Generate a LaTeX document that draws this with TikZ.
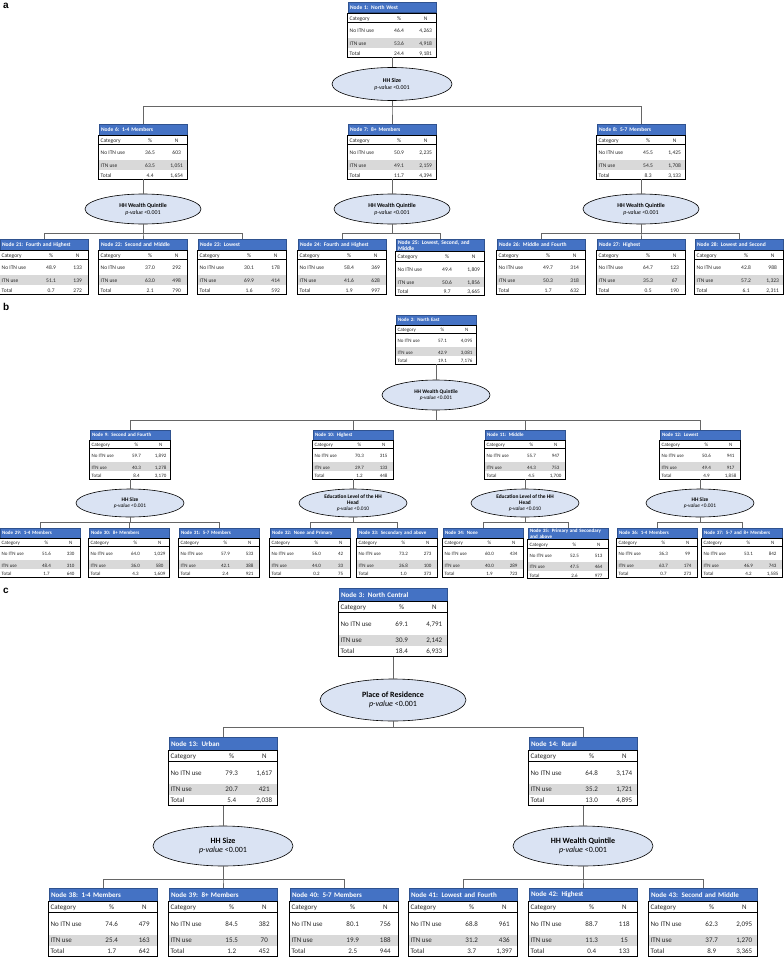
\documentclass[tikz,border=0pt]{standalone}
\usepackage{fontspec}
\setmainfont{Carlito}
\setsansfont{Liberation Sans}
\usetikzlibrary{calc,positioning,shapes.geometric}

\definecolor{hdrblue}{HTML}{4472C4}
\definecolor{hdrdark}{HTML}{2F528F}
\definecolor{rowgrey}{HTML}{D9D9D9}
\definecolor{splitfill}{HTML}{DAE3F3}

% node table: name, top centre, title, then %/N for no use, use, total
\newcommand{\itnbox}[9]{%
	\node[hdr, anchor=north] (#1) at #2 {#3};
	\fill[rowgrey] ($(#1.south west)+(0,\rc+\rn)$) rectangle ($(#1.south east)+(0,\rc+\rn+\ri)$);
	\draw[sepline] ($(#1.south west)+(0,\rc)$) -- ($(#1.south east)+(0,\rc)$);
	\draw[boxline] (#1.south west) rectangle ($(#1.south east)+(0,\rc+\rn+\ri+\rt)$);
	\coordinate (#1-b) at ($(#1.south)+(0,\rc+\rn+\ri+\rt)$);
	\itnrow{#1-c}{#1}{\rc/2}{Category}{\%}{N}
	\itnrow{#1-u}{#1}{\rc+\rn/2}{No ITN use}{#4}{#5}
	\itnrow{#1-i}{#1}{\rc+\rn+\ri/2}{ITN use}{#6}{#7}
	\itnrow{#1-t}{#1}{\rc+\rn+\ri+\rt/2}{Total}{#8}{#9}
}
% one row of a table: prefix, table, offset below header, three cells
\newcommand{\itnrow}[6]{%
	\node[cell, anchor=west] (#1l) at ($(#2.south west)+(1.8,#3)$) {#4};
	\node[cell] (#1p) at ($(#2.south west)!0.58!(#2.south east)+(0,#3)$) {#5};
	\node[cell] (#1n) at ($(#2.south west)!0.88!(#2.south east)+(0,#3)$) {#6};
}

\begin{document}
\begin{tikzpicture}[
	x=1pt, y=-1pt,
	hdr/.style={draw=hdrdark, fill=hdrblue, text=white, font=\tsize\bfseries,
		text width=\tw pt, align=left, minimum height=\rh pt,
		inner xsep=2pt, inner ysep=1pt, line width=0.6pt},
	cell/.style={font=\tsize, text=black!85, inner sep=0pt,
		text height=0.7em, text depth=0.2em},
	sepline/.style={black, line width=0.5pt},
	boxline/.style={black, line width=0.8pt},
	split/.style={ellipse, draw=black, fill=splitfill, line width=0.6pt,
		inner sep=0pt, align=center, font=\esize},
	conn/.style={draw=black!60, line width=0.7pt},
	plabel/.style={font=\sffamily\bfseries\fontsize{10}{12}\selectfont,
		anchor=north west, inner sep=0pt}
	]
	\useasboundingbox (0,0) rectangle (784,958);

	%
	% Panel a: North West
	%
	\begin{scope}
	\def\bw{88}\def\tw{84}\def\rh{10.5}\def\rc{9}\def\rn{16}\def\ri{10}\def\rt{9}
	\def\tsize{\fontsize{5.5}{6.3}\selectfont}
	\def\esize{\fontsize{5.9}{7}\selectfont}
	\node[plabel] (la) at (3,3) {a};
	\itnbox{n1}{(392,2)}{Node 1: North West}{46.4}{4,263}{53.6}{4,918}{24.4}{9,181}
	\node[split, minimum width=120pt, minimum height=33pt] (e1) at (392,84)
		{\textbf{HH Size}\\\textit{p-value} <0.001};
	\itnbox{n6}{(143,124)}{Node 6: 1-4 Members}{36.5}{603}{63.5}{1,051}{4.4}{1,654}
	\itnbox{n7}{(392,124)}{Node 7: 8+ Members}{50.9}{2,235}{49.1}{2,159}{11.7}{4,394}
	\itnbox{n8}{(641,124)}{Node 8: 5-7 Members}{45.5}{1,425}{54.5}{1,708}{8.3}{3,133}
	\foreach \k/\x in {e6/143,e7/392,e8/641}
		\node[split, minimum width=116pt, minimum height=30pt] (\k) at (\x,209)
			{\textbf{HH Wealth Quintile}\\\textit{p-value} <0.001};
	\itnbox{n21}{(44,239)}{Node 21: Fourth and Highest}{48.9}{133}{51.1}{139}{0.7}{272}
	\itnbox{n22}{(143,239)}{Node 22: Second and Middle}{37.0}{292}{63.0}{498}{2.1}{790}
	\itnbox{n23}{(242,239)}{Node 23: Lowest}{30.1}{178}{69.9}{414}{1.6}{592}
	\itnbox{n24}{(342,239)}{Node 24: Fourth and Highest}{58.4}{369}{41.6}{628}{1.9}{997}
	\itnbox{n25}{(440,239)}{Node 25: Lowest, Second, and\\Middle}{49.4}{1,809}{50.6}{1,856}{9.7}{3,665}
	\itnbox{n26}{(541,239)}{Node 26: Middle and Fourth}{49.7}{314}{50.3}{318}{1.7}{632}
	\itnbox{n27}{(641,239)}{Node 27: Highest}{64.7}{123}{35.3}{67}{0.5}{190}
	\itnbox{n28}{(739,239)}{Node 28: Lowest and Second}{42.8}{988}{57.2}{1,323}{6.1}{2,311}
	% connectors
	\coordinate (ya1) at (0,106);
	\coordinate (ya2) at (0,233);
	\draw[conn] (n1-b) -- (e1);
	\foreach \k in {n6,n7,n8} \draw[conn] (e1.south) |- (\k.north |- ya1) -- (\k.north);
	\foreach \p/\e in {n6/e6,n7/e7,n8/e8} \draw[conn] (\p-b) -- (\e);
	\foreach \k in {n21,n22,n23} \draw[conn] (e6.south) |- (\k.north |- ya2) -- (\k.north);
	\foreach \k in {n24,n25} \draw[conn] (e7.south) |- (\k.north |- ya2) -- (\k.north);
	\foreach \k in {n26,n27,n28} \draw[conn] (e8.south) |- (\k.north |- ya2) -- (\k.north);
	\end{scope}

	%
	% Panel b: North East
	%
	\begin{scope}
	\def\bw{80}\def\tw{76}\def\rh{9.5}\def\rc{8}\def\rn{14}\def\ri{9}\def\rt{8}
	\def\tsize{\fontsize{5}{5.7}\selectfont}
	\def\esize{\fontsize{5.4}{6.2}\selectfont}
	\node[plabel] (lb) at (3,303) {b};
	\itnbox{n2}{(436,315)}{Node 2: North East}{57.1}{4,095}{42.9}{3,081}{19.1}{7,176}
	\node[split, minimum width=108pt, minimum height=30pt] (e2) at (436,395)
		{\textbf{HH Wealth Quintile}\\\textit{p-value} <0.001};
	\itnbox{n9}{(130,430)}{Node 9: Second and Fourth}{59.7}{1,892}{40.3}{1,278}{8.4}{3,170}
	\itnbox{n10}{(353,430)}{Node 10: Highest}{70.3}{315}{29.7}{133}{1.2}{448}
	\itnbox{n11}{(525,430)}{Node 11: Middle}{55.7}{947}{44.3}{753}{4.5}{1,700}
	\itnbox{n12}{(700,430)}{Node 12: Lowest}{50.6}{941}{49.4}{917}{4.9}{1,858}
	\foreach \k/\x in {e9/130,e12/700}
		\node[split, minimum width=108pt, minimum height=28pt] (\k) at (\x,503)
			{\textbf{HH Size}\\\textit{p-value} <0.001};
	\foreach \k/\x in {e10/353,e11/525}
		\node[split, minimum width=108pt, minimum height=28pt] (\k) at (\x,503)
			{\textbf{Education Level of the HH}\\\textbf{Head}\\\textit{p-value} <0.010};
	\itnbox{n29}{(40,528)}{Node 29: 1-4 Members}{51.6}{330}{48.4}{310}{1.7}{640}
	\itnbox{n30}{(129,528)}{Node 30: 8+ Members}{64.0}{1,029}{36.0}{580}{4.3}{1,609}
	\itnbox{n31}{(219,528)}{Node 31: 5-7 Members}{57.9}{533}{42.1}{388}{2.4}{921}
	\itnbox{n32}{(310,528)}{Node 32: None and Primary}{56.0}{42}{44.0}{33}{0.2}{75}
	\itnbox{n33}{(397,528)}{Node 33: Secondary and above}{73.2}{273}{26.8}{100}{1.0}{373}
	\itnbox{n34}{(483,528)}{Node 34: None}{60.0}{434}{40.0}{289}{1.9}{723}
	\itnbox{n35}{(568,528)}{Node 35: Primary and Secondary\\and above}{52.5}{513}{47.5}{464}{2.6}{977}
	\itnbox{n36}{(657,528)}{Node 36: 1-4 Members}{36.3}{99}{63.7}{174}{0.7}{273}
	\itnbox{n37}{(742,528)}{Node 37: 5-7 and 8+ Members}{53.1}{842}{46.9}{743}{4.2}{1,585}
	% connectors
	\coordinate (yb1) at (0,420);
	\coordinate (yb2) at (0,522);
	\draw[conn] (n2-b) -- (e2);
	\foreach \k in {n9,n10,n11,n12} \draw[conn] (e2.south) |- (\k.north |- yb1) -- (\k.north);
	\foreach \p/\e in {n9/e9,n10/e10,n11/e11,n12/e12} \draw[conn] (\p-b) -- (\e);
	\foreach \k in {n29,n30,n31} \draw[conn] (e9.south) |- (\k.north |- yb2) -- (\k.north);
	\foreach \k in {n32,n33} \draw[conn] (e10.south) |- (\k.north |- yb2) -- (\k.north);
	\foreach \k in {n34,n35} \draw[conn] (e11.south) |- (\k.north |- yb2) -- (\k.north);
	\foreach \k in {n36,n37} \draw[conn] (e12.south) |- (\k.north |- yb2) -- (\k.north);
	\end{scope}

	%
	% Panel c: North Central
	%
	\begin{scope}
	\def\bw{108}\def\tw{104}\def\rh{13}\def\rc{11}\def\rn{22}\def\ri{11}\def\rt{11}
	\def\tsize{\fontsize{7}{8}\selectfont}
	\def\esize{\fontsize{8}{9.6}\selectfont}
	\node[plabel] (lc) at (3,588) {c};
	\itnbox{n3}{(393,588)}{Node 3: North Central}{69.1}{4,791}{30.9}{2,142}{18.4}{6,933}
	\node[split, minimum width=146pt, minimum height=42pt] (e3) at (393,700)
		{\textbf{Place of Residence}\\\textit{p-value} <0.001};
	\itnbox{n13}{(223,737)}{Node 13: Urban}{79.3}{1,617}{20.7}{421}{5.4}{2,038}
	\itnbox{n14}{(583,737)}{Node 14: Rural}{64.8}{3,174}{35.2}{1,721}{13.0}{4,895}
	\node[split, minimum width=140pt, minimum height=40pt] (e13) at (223,846)
		{\textbf{HH Size}\\\textit{p-value} <0.001};
	\node[split, minimum width=140pt, minimum height=40pt] (e14) at (583,846)
		{\textbf{HH Wealth Quintile}\\\textit{p-value} <0.001};
	\itnbox{n38}{(103,888)}{Node 38: 1-4 Members}{74.6}{479}{25.4}{163}{1.7}{642}
	\itnbox{n39}{(223,888)}{Node 39: 8+ Members}{84.5}{382}{15.5}{70}{1.2}{452}
	\itnbox{n40}{(344,888)}{Node 40: 5-7 Members}{80.1}{756}{19.9}{188}{2.5}{944}
	\itnbox{n41}{(463,888)}{Node 41: Lowest and Fourth}{68.8}{961}{31.2}{436}{3.7}{1,397}
	\itnbox{n42}{(583,888)}{Node 42: Highest}{88.7}{118}{11.3}{15}{0.4}{133}
	\itnbox{n43}{(703,888)}{Node 43: Second and Middle}{62.3}{2,095}{37.7}{1,270}{8.9}{3,365}
	% connectors
	\coordinate (yc1) at (0,727);
	\coordinate (yc2) at (0,879);
	\draw[conn] (n3-b) -- (e3);
	\foreach \k in {n13,n14} \draw[conn] (e3.south) |- (\k.north |- yc1) -- (\k.north);
	\foreach \p/\e in {n13/e13,n14/e14} \draw[conn] (\p-b) -- (\e);
	\foreach \k in {n38,n39,n40} \draw[conn] (e13.south) |- (\k.north |- yc2) -- (\k.north);
	\foreach \k in {n41,n42,n43} \draw[conn] (e14.south) |- (\k.north |- yc2) -- (\k.north);
	\end{scope}
\end{tikzpicture}
\end{document}
